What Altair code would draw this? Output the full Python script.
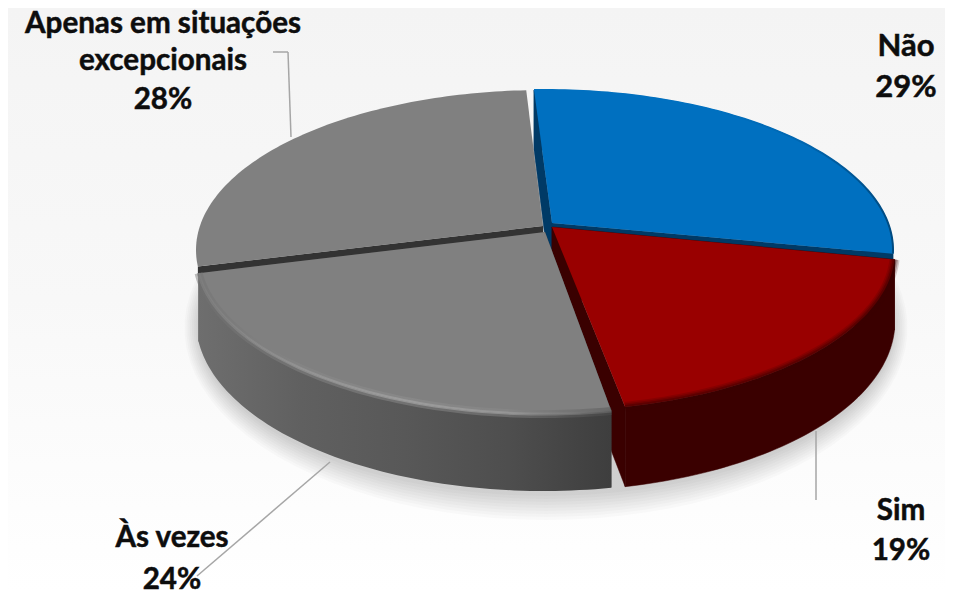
import math
import altair as alt

# data
categories = ["Não", "Sim", "Às vezes", "Apenas em situações excepcionais"]
shares = [29, 19, 24, 28]

# layout
W, H = 937, 583
CX, CY, RX, RY = 545.0, 250.0, 348.0, 160.0
DROP, RY_BOTTOM = 70.0, 170.0
START = -2.1
OFFSET = {0: (0, 0), 1: (2, 1), 2: (-1, 4), 3: (-1, 0)}
BOTTOM_SHIFT = {0: 0, 1: 0, 2: -3, 3: 0}
APEX = {0: (7, -27), 1: (7, -23), 2: (0, -18), 3: (-2, -24)}
TRIM = {0: (0, -1.7), 1: (0, 0), 2: (1.6, -0.3), 3: (0.6, -1.3)}


def grad(stops, x2=1, y2=0):
    n = len(stops) - 1
    return {"gradient": "linear", "x1": 0, "y1": 0, "x2": x2, "y2": y2,
            "stops": [{"offset": i / n, "color": c} for i, c in enumerate(stops)]}


def circle_pt(deg):
    # the tilted view compresses the sides of the disc
    t = math.radians(deg)
    phi = math.radians(deg - 8.0 * math.sin(t) - 1.2 * (1 - math.cos(t)))
    return math.sin(phi), -math.cos(phi)


def top(u, v, off):
    return (u * RX + off[0], v * RY + off[1])


def bottom(u, v, off, shift):
    return (u * RX + off[0], DROP + v * RY_BOTTOM + off[1] + shift)


def norm(pts):
    return [[round(x / RX, 5), round(y / RX, 5)] for x, y in pts]


def poly(ring):
    return {"type": "Feature", "properties": {},
            "geometry": {"type": "Polygon", "coordinates": [norm(ring + ring[:1])]}}


def line(pts):
    return {"type": "Feature", "properties": {},
            "geometry": {"type": "LineString", "coordinates": norm(pts)}}


def shape(feature, **kw):
    return alt.Chart(alt.Data(values=[feature])).mark_geoshape(**kw).project(
        type="identity", scale=RX, translate=[CX - 8, CY - 8])


# slice geometry from the shares
pieces = []
acc = 0.0
for i, s in enumerate(shares):
    a0 = START + acc * 3.6 + TRIM[i][0]
    a1 = START + (acc + s) * 3.6 + TRIM[i][1]
    acc += s
    n = max(24, int(s * 3))
    arc = [circle_pt(a0 + (a1 - a0) * k / n) for k in range(n + 1)]
    off = OFFSET[i]
    apex = APEX[i]
    apex_b = (apex[0], apex[1] + DROP)
    t_arc = [top(u, v, off) for u, v in arc]
    b_arc = [bottom(u, v, off, BOTTOM_SHIFT[i]) for u, v in arc]
    pieces.append(dict(
        top=[apex] + t_arc,
        outer=t_arc + b_arc[::-1],
        side0=[apex, t_arc[0], b_arc[0], apex_b],
        side1=[apex, t_arc[-1], b_arc[-1], apex_b],
        arc=t_arc,
    ))

blue, red, g1, g2 = pieces
layers = []

# page background
layers.append(alt.Chart(alt.Data(values=[{"a": 1}])).mark_rect(
    fill=grad(["#f4f4f4", "#f8f8f8", "#ffffff"], x2=0, y2=1)
).encode(x=alt.value(0), x2=alt.value(W), y=alt.value(0), y2=alt.value(H)))

# soft shadow under the disc
for grow in range(2, 27, 3):
    ring = [((RX - 2 + grow * 0.6) * math.sin(math.radians(d)) + 1,
             DROP + 8 + (RY_BOTTOM - 4 + grow) * math.cos(math.radians(d))) for d in range(0, 360, 4)]
    layers.append(shape(poly(ring), fill="#000000", fillOpacity=.018, stroke="transparent"))

# blue
for part in ("side0", "side1", "outer"):
    layers.append(shape(poly(blue[part]), fill="#003a66", stroke="#003a66", strokeWidth=.5))
layers.append(shape(poly(blue["top"]), fill="#0070c0", stroke="transparent"))
layers.append(shape(line(blue["arc"]), filled=False, strokeWidth=2,
                    stroke=grad(["#0070c0", "#0070c0", "#0070c0", "#0066b0", "#004a80"])))

# grey back slice: only a narrow cut face shows
g2_face = [g2["top"][0], g2["arc"][0], (g2["arc"][0][0], g2["arc"][0][1] + 10),
           (g2["top"][0][0], g2["top"][0][1] + 10)]
layers.append(shape(poly(g2_face), fill="#333333", stroke="transparent"))
layers.append(shape(poly(g2["top"]), fill="#808080", stroke="transparent"))

# red
for part in ("side0", "side1", "outer"):
    layers.append(shape(poly(red[part]), fill="#3a0000", stroke="#3a0000", strokeWidth=.5))
layers.append(shape(poly(red["top"]), fill="#990000", stroke="transparent"))
for w, op in [(10, .18), (7, .25), (4, .4)]:
    layers.append(shape(line(red["arc"]), filled=False, stroke="#3a0000", strokeWidth=w, opacity=op))

# grey front slice
for part in ("side0", "side1"):
    layers.append(shape(poly(g1[part]), fill="#3c3c3c", stroke="transparent"))
layers.append(shape(poly(g1["outer"]), stroke="transparent",
                    fill=grad(["#6e6e6e", "#606060", "#585858", "#4e4e4e", "#3e3e3e"])))
layers.append(shape(poly(g1["top"]), fill="#808080", stroke="transparent"))
rim_wide = grad(["#707070", "#8a8a8a", "#929292", "#8c8c8c", "#505050"])
rim_thin = grad(["#808080", "#989898", "#a4a4a4", "#9c9c9c", "#666666"])
layers.append(shape(line(g1["arc"]), filled=False, stroke=rim_wide, strokeWidth=8, opacity=.45))
layers.append(shape(line(g1["arc"]), filled=False, stroke=rim_thin, strokeWidth=3, opacity=.7))

# leader lines
leader_segments = [
    [(273, 52), (288, 52)], [(288, 52), (291, 137)],
    [(816, 431), (816, 500)],
    [(330, 462), (197, 576)],
]
for seg in leader_segments:
    (x1, y1), (x2, y2) = seg
    layers.append(alt.Chart(alt.Data(values=[{"a": 1}])).mark_rule(
        color="#a6a6a6", strokeWidth=1.5
    ).encode(x=alt.value(x1 - 8), x2=alt.value(x2 - 8), y=alt.value(y1 - 8), y2=alt.value(y2 - 8)))

# labels
label_lines = {
    0: (["Não"], 906, [56]),
    1: (["Sim"], 901, [520]),
    2: (["Às vezes"], 172, [547]),
    3: (["Apenas em situações", "excepcionais"], 163, [33, 70]),
}
pct_baseline = {0: 97, 1: 560, 2: 589, 3: 109}
for i, (lines, cx, ys) in label_lines.items():
    rows = list(zip(lines + [f"{shares[i]}%"], ys + [pct_baseline[i]]))
    for txt, y in rows:
        layers.append(alt.Chart(alt.Data(values=[{"t": txt}])).mark_text(
            font="Lato", fontWeight="bold", fontSize=31 if i == 0 else 29.6, color="#0d0d0d",
            stroke="#0d0d0d", strokeWidth=.5,
            align="center", baseline="alphabetic"
        ).encode(text="t:N", x=alt.value(cx - 8), y=alt.value(y - 8)))

chart = alt.layer(*layers).properties(
    width=W, height=H, padding=0, autosize=alt.AutoSizeParams(type="none"),
    background="#ffffff"
).configure_view(stroke=None)

chart.save("out.html", embed_options={"renderer": "svg", "actions": False})
